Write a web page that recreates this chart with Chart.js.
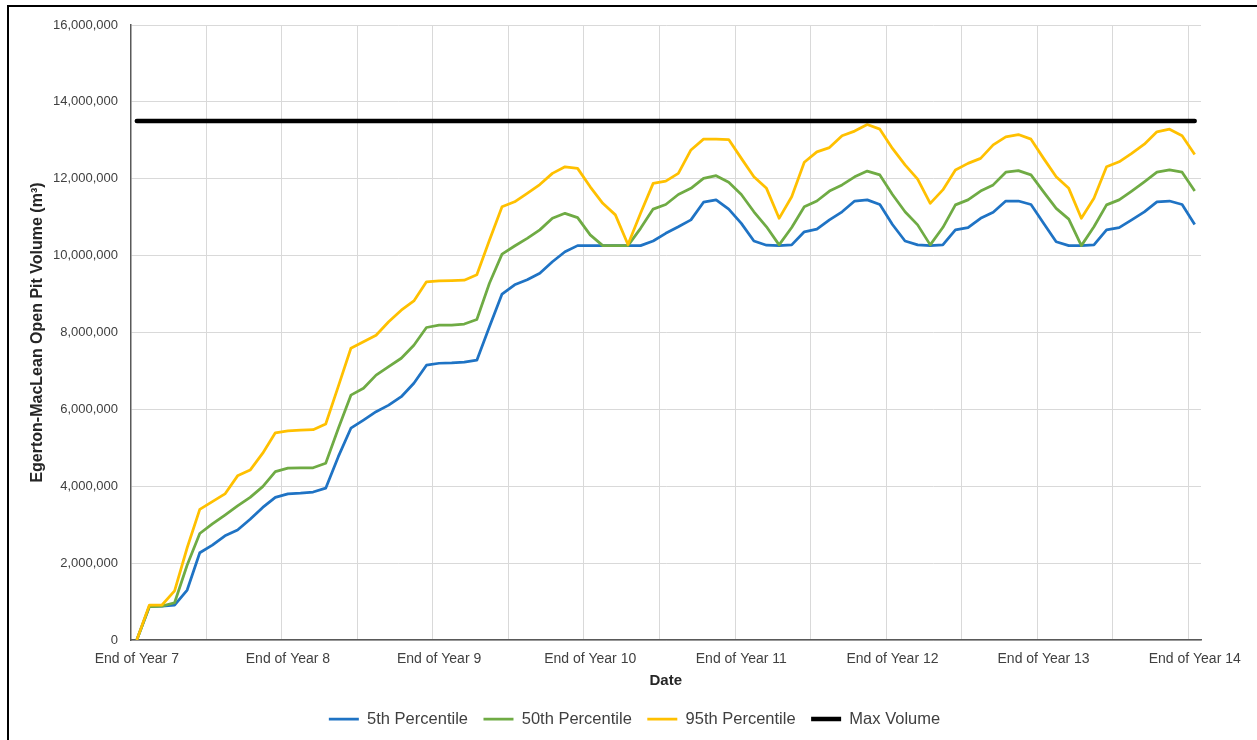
<!DOCTYPE html>
<html><head><meta charset="utf-8">
<script src="https://cdn.jsdelivr.net/npm/chart.js@4.4.1/dist/chart.umd.min.js"></script>
<style>
html,body{margin:0;padding:0;background:#fff;overflow:hidden;}
#wrap{position:relative;width:1257px;height:740px;overflow:hidden;}
canvas{position:absolute;left:0;top:0;}
#frame{position:absolute;left:7px;top:5px;width:1400px;height:900px;border-left:2px solid #000;border-top:2px solid #000;pointer-events:none;}
</style></head><body>
<div id="wrap"><canvas id="c" width="1257" height="740"></canvas><div id="frame"></div></div>
<script>
// x categories: monthly steps, labelled at each year end
const yearLabels = ['End of Year 7','End of Year 8','End of Year 9','End of Year 10','End of Year 11','End of Year 12','End of Year 13','End of Year 14'];
const monthsPerYear = 12;

// volumes in millions of m3, one value per month from End of Year 7 to End of Year 14
const p5Millions = [
  0, 0.87, 0.88, 0.91, 1.30, 2.27, 2.47, 2.71, 2.86, 3.14, 3.45, 3.71,
  3.80, 3.82, 3.85, 3.95, 4.77, 5.51, 5.72, 5.94, 6.11, 6.33, 6.68, 7.15,
  7.20, 7.21, 7.23, 7.28, 8.15, 9.00, 9.24, 9.37, 9.54, 9.84, 10.10, 10.26,
  10.26, 10.26, 10.26, 10.26, 10.26, 10.38, 10.58, 10.75, 10.93, 11.39, 11.45, 11.21,
  10.84, 10.38, 10.27, 10.26, 10.28, 10.62, 10.69, 10.93, 11.14, 11.42, 11.45, 11.33,
  10.81, 10.38, 10.28, 10.26, 10.28, 10.67, 10.73, 10.97, 11.13, 11.42, 11.42, 11.33,
  10.84, 10.36, 10.26, 10.26, 10.28, 10.67, 10.73, 10.93, 11.14, 11.40, 11.42, 11.33,
  10.81
];
const p50Millions = [
  0, 0.87, 0.88, 0.97, 1.95, 2.77, 3.02, 3.25, 3.49, 3.71, 3.99, 4.38,
  4.47, 4.48, 4.48, 4.60, 5.50, 6.37, 6.55, 6.89, 7.11, 7.33, 7.67, 8.13,
  8.19, 8.19, 8.22, 8.34, 9.28, 10.04, 10.25, 10.45, 10.67, 10.97, 11.10, 10.99,
  10.54, 10.26, 10.26, 10.26, 10.71, 11.21, 11.33, 11.59, 11.75, 12.01, 12.08, 11.91,
  11.59, 11.14, 10.75, 10.28, 10.73, 11.27, 11.42, 11.68, 11.84, 12.05, 12.20, 12.10,
  11.59, 11.14, 10.80, 10.28, 10.73, 11.32, 11.45, 11.68, 11.84, 12.17, 12.21, 12.10,
  11.66, 11.23, 10.95, 10.26, 10.75, 11.32, 11.45, 11.68, 11.92, 12.17, 12.23, 12.17,
  11.68
];
const p95Millions = [
  0, 0.91, 0.91, 1.28, 2.40, 3.40, 3.60, 3.80, 4.27, 4.42, 4.86, 5.39,
  5.44, 5.46, 5.47, 5.62, 6.60, 7.59, 7.76, 7.93, 8.28, 8.58, 8.82, 9.32,
  9.34, 9.35, 9.36, 9.50, 10.40, 11.27, 11.40, 11.62, 11.85, 12.14, 12.31, 12.27,
  11.79, 11.36, 11.06, 10.29, 11.10, 11.88, 11.94, 12.14, 12.75, 13.03, 13.03, 13.02,
  12.53, 12.05, 11.75, 10.97, 11.53, 12.43, 12.70, 12.81, 13.12, 13.24, 13.41, 13.29,
  12.79, 12.36, 11.99, 11.36, 11.71, 12.23, 12.40, 12.53, 12.88, 13.09, 13.15, 13.03,
  12.53, 12.05, 11.75, 10.97, 11.49, 12.31, 12.44, 12.66, 12.90, 13.22, 13.29, 13.12,
  12.63
];
const maxVolume = 13500000;

const yMin = 0, yMax = 16000000, yStep = 2000000;
const seriesNames = ['5th Percentile', '50th Percentile', '95th Percentile', 'Max Volume'];

const categories = [];
for (let y = 0; y < yearLabels.length; y++) {
  for (let m = 0; m < monthsPerYear; m++) {
    if (y === yearLabels.length - 1 && m > 0) break;
    categories.push(m === 0 ? yearLabels[y] : '');
  }
}
const toM3 = arr => arr.map(v => v * 1000000);
const fmt = v => String(Math.round(v)).replace(/\B(?=(\d{3})+(?!\d))/g, ',');

const FONT = "'Liberation Sans', Arial, sans-serif";
const tickColor = '#404040';
const titleColor = '#262626';

new Chart(document.getElementById('c'), {
  type: 'line',
  data: {
    labels: categories,
    datasets: [
      { label: seriesNames[0], data: toM3(p5Millions), borderColor: '#1F73C4', backgroundColor: '#1F73C4', borderWidth: 2.75, order: 4 },
      { label: seriesNames[1], data: toM3(p50Millions), borderColor: '#6FAB44', backgroundColor: '#6FAB44', borderWidth: 2.75, order: 3 },
      { label: seriesNames[2], data: toM3(p95Millions), borderColor: '#FFC000', backgroundColor: '#FFC000', borderWidth: 2.75, order: 2 },
      { label: seriesNames[3], data: categories.map(() => maxVolume), borderColor: '#000000', backgroundColor: '#000000', borderWidth: 4.5, borderCapStyle: 'round', order: 1 }
    ]
  },
  options: {
    responsive: false,
    animation: false,
    devicePixelRatio: 1,
    elements: {
      point: { radius: 0, hoverRadius: 0 },
      line: { tension: 0, borderJoinStyle: 'round', fill: false }
    },
    layout: { padding: { left: 12, right: 0, top: 25, bottom: 2.75 } },
    plugins: {
      tooltip: { enabled: false },
      legend: {
        position: 'bottom',
        labels: {
          usePointStyle: true,
          pointStyle: 'line',
          pointStyleWidth: 30,
          boxHeight: 16.5,
          padding: 15.5,
          color: tickColor,
          font: { family: FONT, size: 16.5 },
          sort: (a, b) => a.datasetIndex - b.datasetIndex
        }
      }
    },
    scales: {
      x: {
        type: 'category',
        offset: true,
        grid: {
          offset: true,
          drawTicks: false,
          color: ctx => (ctx.index > 0 && ctx.index < categories.length && ctx.index % 6 === 0) ? '#D9D9D9' : 'rgba(0,0,0,0)',
          lineWidth: 1
        },
        border: { display: true, color: '#595959', width: 1.5 },
        ticks: {
          autoSkip: false,
          maxRotation: 0,
          minRotation: 0,
          padding: 10.6,
          color: tickColor,
          font: { family: FONT, size: 14 },
          callback: function(value, index) { return categories[index]; }
        },
        title: {
          display: true,
          text: 'Date',
          color: titleColor,
          font: { family: FONT, size: 15, weight: 'bold' },
          padding: { top: 0, bottom: 5.25 }
        },
        afterFit: s => { s.height = 55.25; }
      },
      y: {
        min: yMin,
        max: yMax,
        grid: { color: '#D9D9D9', lineWidth: 1, drawTicks: false },
        border: { display: true, color: '#595959', width: 1.5 },
        ticks: {
          stepSize: yStep,
          padding: 12.5,
          color: tickColor,
          font: { family: FONT, size: 13 },
          callback: v => fmt(v)
        },
        title: {
          display: true,
          text: 'Egerton-MacLean Open Pit Volume (m³)',
          color: titleColor,
          font: { family: FONT, size: 16, weight: 'bold' },
          padding: { top: 16.4, bottom: 0 }
        },
        afterFit: s => { s.width = 118.5; }
      },
      yRight: {
        position: 'right',
        display: true,
        grid: { display: false, drawTicks: false },
        border: { display: false },
        ticks: { display: false },
        afterFit: s => { s.width = 56; }
      }
    }
  }
});
</script>
</body></html>
